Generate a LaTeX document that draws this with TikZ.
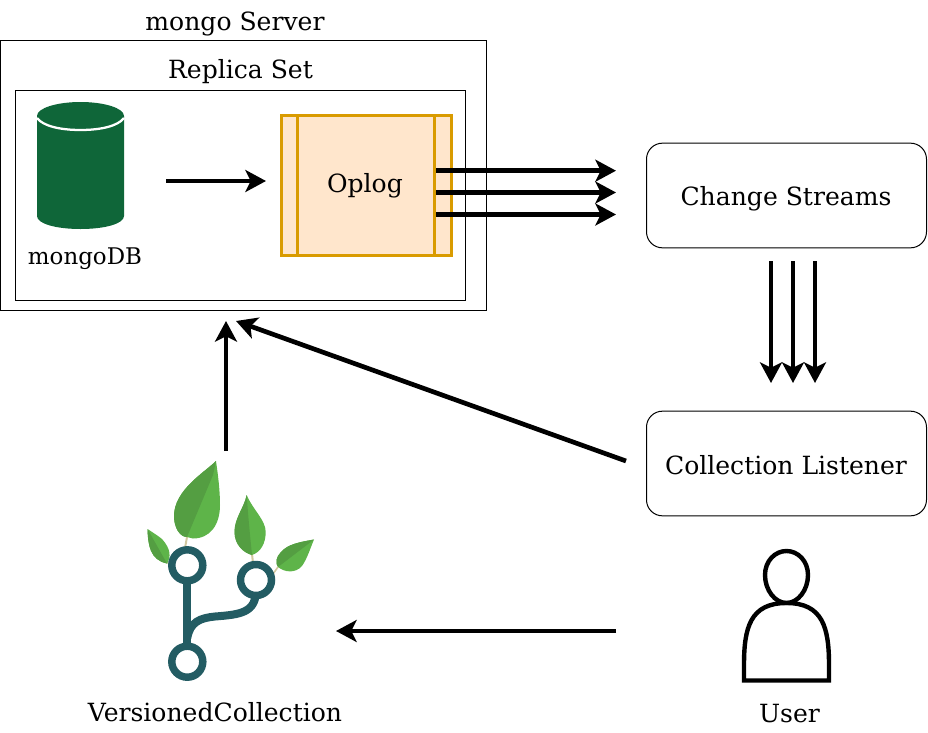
\documentclass[tikz,border=0pt]{standalone}
\usepackage{fontspec}
\setmainfont{DejaVu Serif}
\usetikzlibrary{arrows.meta}

\definecolor{dbgreen}{RGB}{15,102,57}
\definecolor{oplogfill}{RGB}{255,230,204}
\definecolor{oplogline}{RGB}{217,155,0}
\definecolor{leaflight}{RGB}{94,180,73}
\definecolor{leafdark}{RGB}{84,158,66}
\definecolor{stemtan}{RGB}{210,200,160}
\definecolor{ringteal}{RGB}{35,92,99}

\tikzset{every picture/.style={line width=0.75pt}}
\tikzset{
  plainbox/.style={draw=black,inner sep=0pt,outer sep=0pt},
  roundbox/.style={plainbox,rounded corners=12pt,minimum width=210pt,minimum height=78.5pt},
  oplogbox/.style={draw=oplogline,fill=oplogfill,line width=2.25pt,inner sep=0pt,outer sep=0pt,minimum width=127.5pt,minimum height=105.5pt},
  label18/.style={inner sep=0pt,font=\fontsize{18.8}{23}\selectfont},
  label16/.style={inner sep=0pt,font=\fontsize{17.2}{21}\selectfont},
  bigarrow/.style={line width=3.5pt,-{Stealth[length=15.5pt,width=16.5pt,inset=4pt]}},
  ringline/.style={draw=ringteal,line width=5.6pt,fill=white}
}

\begin{document}
\begin{tikzpicture}[x=0.75pt,y=0.75pt,yscale=-1,xscale=1]
\useasboundingbox (0,0) rectangle (928,732);

% Boxes
\node [plainbox,minimum width=364.5pt,minimum height=202.5pt] (server) at (243,175.7) {};
\node [plainbox,minimum width=338pt,minimum height=157.5pt] (replica) at (240.5,195.3) {};
\node [label18] (serverlabel) at (235,23.5) {mongo Server};
\node [label18] (replicalabel) at (240.5,71.5) {Replica Set};

% Database cylinder
\fill [dbgreen] (37,116) .. controls (37,108) and (57,102) .. (80.5,102) .. controls (104,102) and (124,108) .. (124,116) -- (124,216) .. controls (124,224) and (104,229) .. (80.5,229) .. controls (57,229) and (37,224) .. (37,216) -- cycle;
\draw [white,line width=1.7pt] (37,118) .. controls (43,126) and (60,130) .. (80.5,130) .. controls (101,130) and (118,126) .. (124,118);
\node [label16] (mongolabel) at (85,258.5) {mongoDB};

% Oplog
\node [oplogbox] (oplog) at (366,185.5) {};
\node [label18] (oploglabel) at (365,185.5) {Oplog};
\draw [oplogline,line width=2.25pt] (297.5,115) -- (297.5,256);
\draw [oplogline,line width=2.25pt] (434,115) -- (434,256);

% Rounded boxes
\node [roundbox] (streams) at (786.5,195.5) {};
\node [label18] (streamslabel) at (786,198.5) {Change Streams};
\node [roundbox] (listener) at (786.5,463.5) {};
\node [label18] (listenerlabel) at (786,465) {Collection Listener};

% Arrows
\coordinate (dbout) at (166,181);
\coordinate (oplogin) at (266,181);
\coordinate (opa) at (436,170.7);
\coordinate (opb) at (436,192.5);
\coordinate (opc) at (436,214.5);
\coordinate (csa) at (616,170.7);
\coordinate (csb) at (616,192.5);
\coordinate (csc) at (616,214.5);
\coordinate (downa) at (771,261);
\coordinate (downb) at (793,261);
\coordinate (downc) at (815,261);
\coordinate (lisa) at (771,383);
\coordinate (lisb) at (793,383);
\coordinate (lisc) at (815,383);
\coordinate (vcup) at (226,451);
\coordinate (serverin) at (226,321);
\coordinate (lisout) at (626,461);
\coordinate (serverinb) at (236,321);
\coordinate (userout) at (616,631);
\coordinate (vcin) at (336,631);
\draw [bigarrow] (dbout) -- (oplogin);
\draw [bigarrow] (opa) -- (csa);
\draw [bigarrow] (opb) -- (csb);
\draw [bigarrow] (opc) -- (csc);
\draw [bigarrow] (downa) -- (lisa);
\draw [bigarrow] (downb) -- (lisb);
\draw [bigarrow] (downc) -- (lisc);
\draw [bigarrow] (vcup) -- (serverin);
\draw [bigarrow] (lisout) -- (serverinb);
\draw [bigarrow] (userout) -- (vcin);

% Stems
\draw [stemtan,line width=1.5pt] (187,537) -- (185,548);
\draw [stemtan,line width=1.2pt] (166,561) -- (169,564);
\draw [stemtan,line width=1.5pt] (252,554) -- (253,563);
\draw [stemtan,line width=1.2pt] (278,567) -- (273,574);

% Big leaf
\fill [leaflight] (216,461) .. controls (205,472) and (174,490) .. (174,516) .. controls (174,528) and (180,537) .. (187,537) -- (193,538.5) .. controls (210,538.5) and (220,525) .. (220,505) .. controls (220,490) and (218,475) .. (216,461) -- cycle;
\fill [leafdark] (216,461) .. controls (205,472) and (174,490) .. (174,516) .. controls (174,528) and (180,537) .. (187,537) -- (213,475) -- cycle;
% Small left leaf
\fill [leaflight] (147.5,529) .. controls (148,545) and (150,560) .. (167,563.5) .. controls (171,557) and (171,549) .. (162,539) .. controls (157,535) and (152,532) .. (147.5,529) -- cycle;
\fill [leafdark] (147.5,529) .. controls (148,545) and (150,560) .. (167,563.5) -- cycle;
% Middle leaf
\fill [leaflight] (246.7,495) .. controls (244,508) and (234.5,518) .. (234.5,532) .. controls (234.5,545) and (244,553) .. (252,555) .. controls (261,552) and (265.7,543) .. (265.7,532) .. controls (265.7,520) and (253,510) .. (246.7,495) -- cycle;
\fill [leafdark] (246.7,495) .. controls (244,508) and (234.5,518) .. (234.5,532) .. controls (234.5,545) and (244,553) .. (252,555) .. controls (250,535) and (248,515) .. (246.7,495) -- cycle;
% Right leaf
\fill [leaflight] (314,539.5) .. controls (300,542) and (288,544) .. (281,552) .. controls (276,557) and (275,563) .. (278,567) .. controls (284,572) and (295,574) .. (302,566) .. controls (307,559) and (310,549) .. (314,539.5) -- cycle;
\fill [leafdark] (314,539.5) .. controls (300,542) and (288,544) .. (281,552) .. controls (276,557) and (275,563) .. (278,567) -- cycle;

% Branches
\draw [ringteal,line width=6pt] (187.3,565) -- (187.3,662);
\draw [ringteal,line width=6pt] (187.3,638) .. controls (190,622) and (200,618) .. (215,616.5) .. controls (240,614.5) and (256,613) .. (256,590);
\draw [ringline] (187.3,565.3) circle (15.5);
\draw [ringline] (256,580) circle (15.5);
\draw [ringline] (187.3,661.7) circle (15.5);
\node [label18] (vclabel) at (215,712.5) {VersionedCollection};

% User
\draw [line width=3.3pt] (786.5,551) .. controls (775,551) and (765,561) .. (765,575) .. controls (765,590) and (775,603) .. (786.5,603) .. controls (798,603) and (808,590) .. (808,575) .. controls (808,561) and (798,551) .. (786.5,551) -- cycle;
\draw [line width=3.3pt] (744,680.5) -- (744,665) .. controls (744,628) and (750,603) .. (786.5,603) .. controls (823,603) and (829,628) .. (829,665) -- (829,680.5) -- cycle;
\node [label18] (userlabel) at (789.5,713.5) {User};

\end{tikzpicture}
\end{document}
